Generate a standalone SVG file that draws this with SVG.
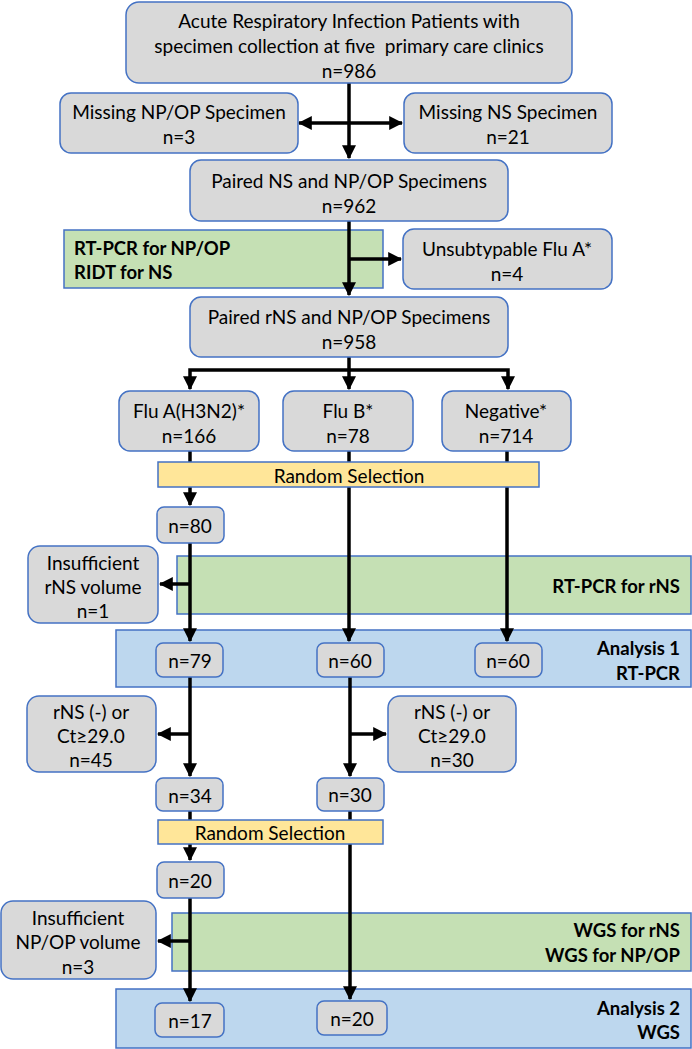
<svg xmlns="http://www.w3.org/2000/svg" width="692" height="1049" viewBox="0 0 692 1049">
<style>
text{font-family:Lato,"Liberation Sans",sans-serif;font-size:19px;fill:#000;dominant-baseline:central}
.c{text-anchor:middle}
.r{text-anchor:end;font-weight:bold;font-size:18.5px}
.l{text-anchor:start;font-weight:bold;font-size:18.5px}
.node rect.g{fill:#d9d9d9;stroke:#4472c4;stroke-width:1.5}
.band{stroke:#4472c4;stroke-width:1.5}
.green{fill:#c5e0b4}
.blue{fill:#bdd7ee}
.yellow{fill:#ffe699}
#connectors path{fill:none;stroke:#000;stroke-width:3.5}
</style>
<defs>
<marker id="ah" markerUnits="userSpaceOnUse" markerWidth="14" markerHeight="14" refX="11" refY="6" orient="auto-start-reverse" viewBox="0 0 12 12">
<path d="M0,0 L12,6 L0,12 Z" fill="#000"/>
</marker>
</defs>

<g id="band-rtpcr-npop"><rect class="band green" x="64" y="230" width="319" height="58"/>
<text class="l" x="74" y="248">RT-PCR for NP/OP</text><text class="l" x="74" y="272">RIDT for NS</text></g>
<g id="band-rtpcr-rns"><rect class="band green" x="177" y="556" width="514" height="58"/>
<text class="r" x="680" y="586">RT-PCR for rNS</text></g>
<g id="band-analysis1"><rect class="band blue" x="116" y="630" width="575" height="57"/>
<text class="r" x="680" y="648">Analysis 1</text><text class="r" x="680" y="673">RT-PCR</text></g>
<g id="band-wgs"><rect class="band green" x="172" y="913" width="519" height="58"/>
<text class="r" x="680" y="930">WGS for rNS</text><text class="r" x="680" y="955">WGS for NP/OP</text></g>
<g id="band-analysis2"><rect class="band blue" x="116" y="989" width="575" height="59"/>
<text class="r" x="680" y="1008">Analysis 2</text><text class="r" x="680" y="1032">WGS</text></g>

<g id="connectors">
<path d="M349,83 V158" marker-end="url(#ah)"/>
<path d="M299,123 H402" marker-start="url(#ah)" marker-end="url(#ah)"/>
<path d="M349,221 V295" marker-end="url(#ah)"/>
<path d="M349,259 H401" marker-end="url(#ah)"/>
<path d="M349,357 V370"/>
<path d="M190,389 V370 H508 V389" marker-start="url(#ah)" marker-end="url(#ah)"/>
<path d="M349,370 V389" marker-end="url(#ah)"/>
<path d="M190,451 V505" marker-end="url(#ah)"/>
<path d="M349,451 V641" marker-end="url(#ah)"/>
<path d="M507,451 V641" marker-end="url(#ah)"/>
<path d="M190,543 V641" marker-end="url(#ah)"/>
<path d="M190,584 H160" marker-end="url(#ah)"/>
<path d="M190,677 V776" marker-end="url(#ah)"/>
<path d="M190,734 H158" marker-end="url(#ah)"/>
<path d="M350,677 V776" marker-end="url(#ah)"/>
<path d="M350,734 H386" marker-end="url(#ah)"/>
<path d="M190,811 V860" marker-end="url(#ah)"/>
<path d="M350,811 V999" marker-end="url(#ah)"/>
<path d="M190,898 V1001" marker-end="url(#ah)"/>
<path d="M190,941 H158" marker-end="url(#ah)"/>
</g>

<g id="random1"><rect class="band yellow" x="158" y="462" width="381" height="25"/>
<text class="c" x="349" y="475">Random Selection</text></g>
<g id="random2"><rect class="band yellow" x="158" y="820" width="225" height="24"/>
<text class="c" x="270" y="832">Random Selection</text></g>

<g id="n986" class="node"><rect class="g" x="126" y="2" width="446" height="81" rx="13"/>
<text class="c" x="349" y="20">Acute Respiratory Infection Patients with</text>
<text class="c" x="349" y="45" xml:space="preserve">specimen collection at five  primary care clinics</text>
<text class="c" x="349" y="70">n=986</text></g>
<g id="missing-npop" class="node"><rect class="g" x="60" y="93" width="238" height="60" rx="11"/>
<text class="c" x="179" y="111">Missing NP/OP Specimen</text><text class="c" x="179" y="136">n=3</text></g>
<g id="missing-ns" class="node"><rect class="g" x="404" y="93" width="208" height="60" rx="11"/>
<text class="c" x="508" y="111">Missing NS Specimen</text><text class="c" x="508" y="136">n=21</text></g>
<g id="paired-ns" class="node"><rect class="g" x="190" y="160" width="318" height="61" rx="11"/>
<text class="c" x="349" y="180">Paired NS and NP/OP Specimens</text><text class="c" x="349" y="205">n=962</text></g>
<g id="unsubtypable" class="node"><rect class="g" x="403" y="229" width="209" height="60" rx="11"/>
<text class="c" x="507" y="248">Unsubtypable Flu A*</text><text class="c" x="507" y="273">n=4</text></g>
<g id="paired-rns" class="node"><rect class="g" x="190" y="297" width="318" height="60" rx="11"/>
<text class="c" x="349" y="316">Paired rNS and NP/OP Specimens</text><text class="c" x="349" y="341">n=958</text></g>
<g id="flua" class="node"><rect class="g" x="119" y="391" width="140" height="60" rx="11"/>
<text class="c" x="189" y="410">Flu A(H3N2)*</text><text class="c" x="189" y="435">n=166</text></g>
<g id="flub" class="node"><rect class="g" x="283" y="391" width="130" height="60" rx="11"/>
<text class="c" x="348" y="410">Flu B*</text><text class="c" x="348" y="435">n=78</text></g>
<g id="negative" class="node"><rect class="g" x="442" y="391" width="129" height="60" rx="11"/>
<text class="c" x="506" y="410">Negative*</text><text class="c" x="506" y="435">n=714</text></g>
<g id="n80" class="node"><rect class="g" x="157" y="507" width="67" height="36" rx="7"/>
<text class="c" x="190" y="525">n=80</text></g>
<g id="insuff-rns" class="node"><rect class="g" x="28" y="546" width="130" height="77" rx="12"/>
<text class="c" x="93" y="562">Insufficient</text><text class="c" x="93" y="586">rNS volume</text><text class="c" x="93" y="610">n=1</text></g>
<g id="n79" class="node"><rect class="g" x="156" y="643" width="67" height="34" rx="7"/>
<text class="c" x="190" y="660">n=79</text></g>
<g id="n60b" class="node"><rect class="g" x="317" y="643" width="67" height="34" rx="7"/>
<text class="c" x="350" y="660">n=60</text></g>
<g id="n60n" class="node"><rect class="g" x="475" y="643" width="67" height="34" rx="7"/>
<text class="c" x="508" y="660">n=60</text></g>
<g id="ct-a" class="node"><rect class="g" x="27" y="696" width="129" height="76" rx="12"/>
<text class="c" x="91" y="711">rNS (-) or</text><text class="c" x="91" y="735">Ct≥29.0</text><text class="c" x="91" y="759">n=45</text></g>
<g id="ct-b" class="node"><rect class="g" x="388" y="696" width="128" height="76" rx="12"/>
<text class="c" x="452" y="711">rNS (-) or</text><text class="c" x="452" y="735">Ct≥29.0</text><text class="c" x="452" y="759">n=30</text></g>
<g id="n34" class="node"><rect class="g" x="156" y="778" width="67" height="33" rx="7"/>
<text class="c" x="190" y="795">n=34</text></g>
<g id="n30" class="node"><rect class="g" x="317" y="778" width="67" height="33" rx="7"/>
<text class="c" x="350" y="794">n=30</text></g>
<g id="n20a" class="node"><rect class="g" x="157" y="862" width="67" height="36" rx="7"/>
<text class="c" x="190" y="880">n=20</text></g>
<g id="insuff-npop" class="node"><rect class="g" x="1" y="901" width="155" height="78" rx="12"/>
<text class="c" x="78" y="917">Insufficient</text><text class="c" x="78" y="941">NP/OP volume</text><text class="c" x="78" y="966">n=3</text></g>
<g id="n17" class="node"><rect class="g" x="155" y="1003" width="69" height="34" rx="7"/>
<text class="c" x="190" y="1020">n=17</text></g>
<g id="n20b" class="node"><rect class="g" x="317" y="1001" width="70" height="34" rx="7"/>
<text class="c" x="352" y="1018">n=20</text></g>
</svg>
